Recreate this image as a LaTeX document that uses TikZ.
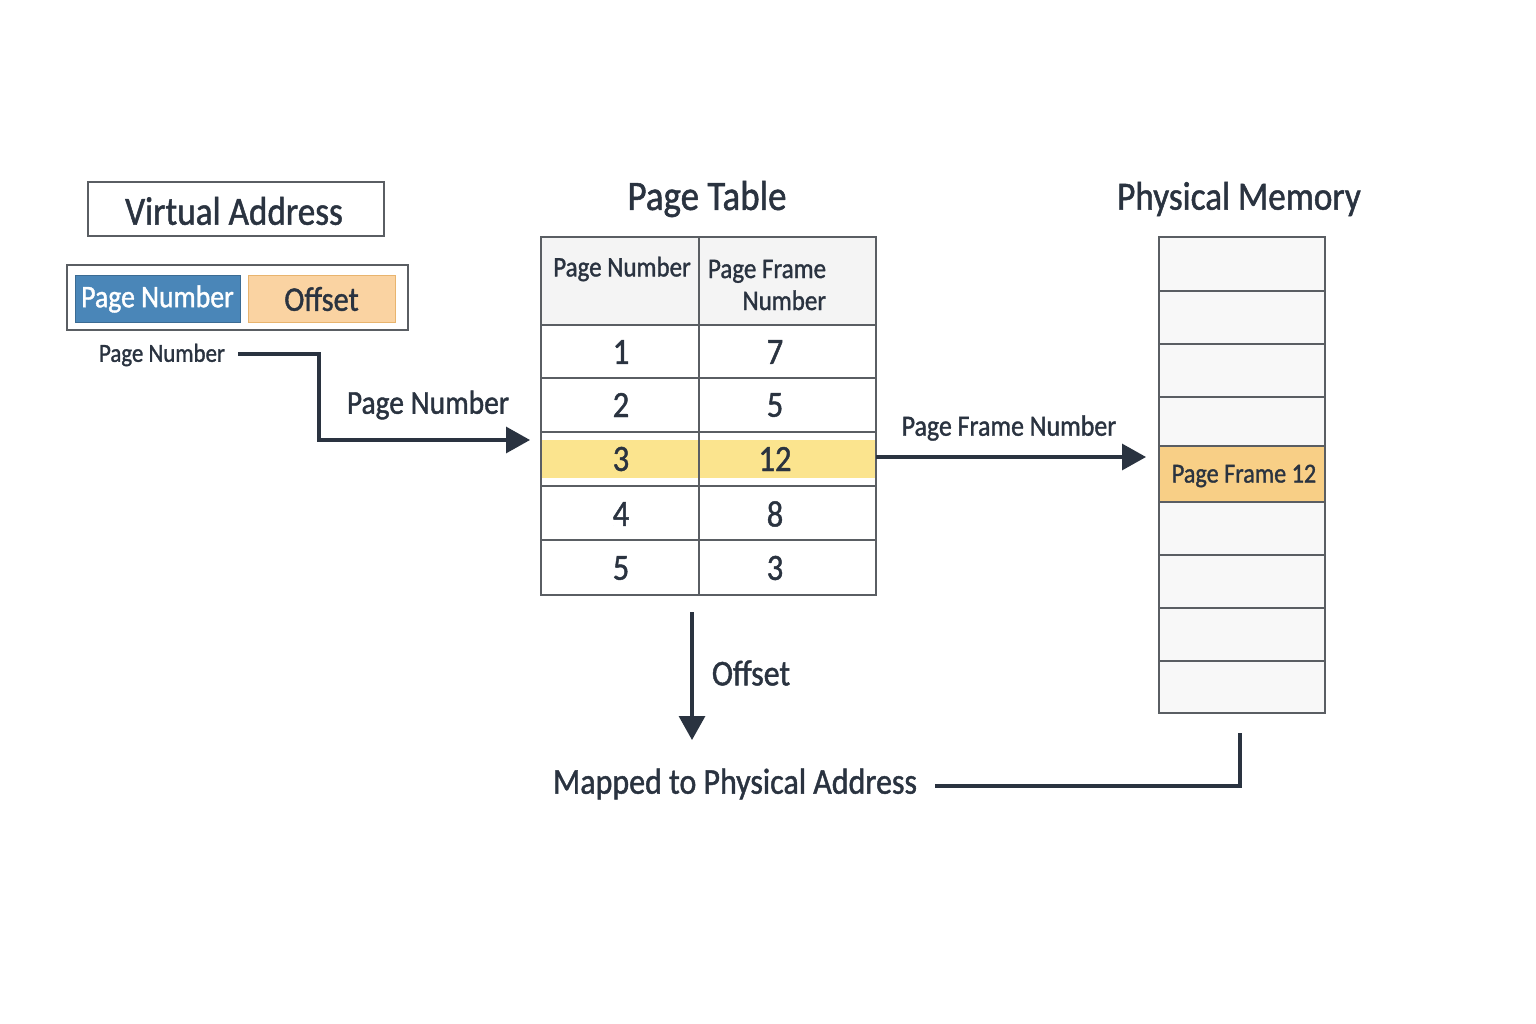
\documentclass[tikz,border=0pt]{standalone}
\usepackage{fontspec}
\setmainfont{Carlito}[FakeStretch=0.88,FakeBold=1.2]
\usetikzlibrary{arrows.meta}
\definecolor{ink}{HTML}{2A3340}
\definecolor{frame}{HTML}{5A5E63}
\definecolor{hdr}{HTML}{F4F4F4}
\definecolor{cellbg}{HTML}{F8F8F8}
\definecolor{blue}{HTML}{4A86B8}
\definecolor{peach}{HTML}{FAD3A2}
\definecolor{peachb}{HTML}{E8B46E}
\definecolor{hiy}{HTML}{FBE48E}
\definecolor{hio}{HTML}{F8CF86}
\tikzset{
  px/.style={x=1pt,y=-1pt},
  txt/.style={text=ink,inner sep=0pt},
  conn/.style={draw=ink,line width=3.2pt},
  arr/.style={conn,-{Triangle[length=24pt,width=26pt]}},
  cellline/.style={draw=frame,line width=1.5pt},
}
\begin{document}
\begin{tikzpicture}[px]
\useasboundingbox (0,0) rectangle (1536,1024);
\fill[white] (0,0) rectangle (1536,1024);

% Virtual address
\draw[frame,line width=1.5pt] (88,182) rectangle (384,236);
\node[txt,font=\fontsize{40}{43}\selectfont] (va) at (234,211) {Virtual Address};
\draw[frame,line width=2.5pt] (67,265) rectangle (408,330);
\node[fill=blue,draw=blue!80!black,line width=1pt,minimum width=165pt,minimum height=46pt,inner sep=0pt,text=white,font=\fontsize{31.5}{33}\selectfont] (vpn) at (157.5,299) {Page Number};
\node[fill=peach,draw=peachb,line width=1pt,minimum width=147pt,minimum height=46pt,inner sep=0pt,text=ink,font=\fontsize{34.5}{36}\selectfont] (voff) at (321.5,299) {Offset};

\node[txt,font=\fontsize{26}{28}\selectfont] (pnl) at (162,355) {Page Number};
\coordinate (pnstart) at (238,354);
\coordinate (pnend) at (530,440);
\draw[arr] (pnstart) -- (319,354) -- (319,440) -- (pnend);
\node[txt,font=\fontsize{33.5}{36}\selectfont] (pnlab) at (428,405) {Page Number};

% Page table
\node[txt,font=\fontsize{42}{45}\selectfont] (ptt) at (707,199) {Page Table};
\fill[hdr] (541,237) rectangle (876,325);
\fill[white] (541,325) rectangle (876,595);
\fill[hiy] (541,440) rectangle (876,478);
\foreach \y in {325,378,432,486,540} \draw[cellline] (541,\y) -- (876,\y);
\draw[cellline] (699,237) -- (699,595);
\draw[cellline] (541,237) rectangle (876,595);
\node[txt,font=\fontsize{28.4}{30}\selectfont] (h1) at (622,269) {Page Number};
\node[txt,font=\fontsize{28.4}{32}\selectfont,align=right] (h2) at (767,285) {Page Frame\\Number};
\foreach \r/\a/\b/\yy in {1/1/7/352, 2/2/5/405, 3/3/12/459, 4/4/8/514, 5/5/3/568}{
  \node[txt,font=\fontsize{37}{39}\selectfont] (pa\r) at (621,\yy) {\a};
  \node[txt,font=\fontsize{37}{39}\selectfont] (pb\r) at (775,\yy) {\b};
}
\coordinate (ptr) at (876,457);

% Physical memory
\node[txt,font=\fontsize{40}{43}\selectfont] (pmt) at (1239,199) {Physical Memory};
\fill[cellbg] (1159,237) rectangle (1325,713);
\fill[hio] (1159,446) rectangle (1325,502);
\foreach \y in {291,344,397,446,502,555,608,661} \draw[cellline] (1159,\y) -- (1325,\y);
\draw[cellline] (1159,237) rectangle (1325,713);
\node[txt,font=\fontsize{27.5}{29}\selectfont] (pf12) at (1244,476) {Page Frame 12};
\coordinate (pmin) at (1146,457);
\draw[arr] (ptr) -- (pmin);
\node[txt,font=\fontsize{29.4}{31}\selectfont] (pfnl) at (1009,428) {Page Frame Number};

% Offset arrow
\coordinate (offs) at (692,612);
\coordinate (offe) at (692,740);
\draw[arr] (offs) -- (offe);
\node[txt,font=\fontsize{36.3}{38}\selectfont] (offl) at (751,673) {Offset};

% Mapped
\node[txt,font=\fontsize{36.3}{38}\selectfont] (map) at (735,784) {Mapped to Physical Address};
\coordinate (mapend) at (935,786);
\coordinate (pmb) at (1240,733);
\draw[conn] (mapend) -- (1240,786) -- (pmb);
\end{tikzpicture}
\end{document}
